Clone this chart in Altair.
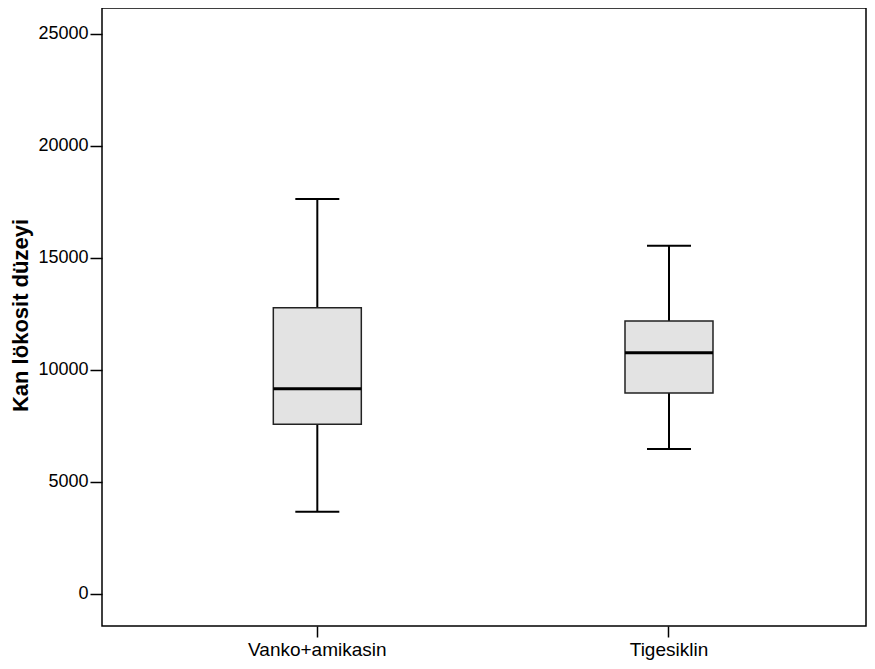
import altair as alt
import pandas as pd

CATS = ["Vanko+amikasin", "Tigesiklin"]
LOWER = [3670, 6470]
Q1 = [7570, 8970]
MEDIAN = [9160, 10760]
Q3 = [12770, 12180]
UPPER = [17620, 15540]
Y_TICKS = [0, 5000, 10000, 15000, 20000, 25000]
Y_TITLE = "Kan lökosit düzeyi"

df = pd.DataFrame({"grp": CATS, "lo": LOWER, "q1": Q1, "med": MEDIAN, "q3": Q3, "hi": UPPER})

FONT = "Liberation Sans"

xenc = alt.X(
    "grp:N",
    sort=CATS,
    title=None,
    scale=alt.Scale(paddingInner=0, paddingOuter=0.0862, align=0.651),
    axis=alt.Axis(labelAngle=0, labelFontSize=19, labelPadding=3, tickSize=11,
                  labelFont=FONT, labelColor="black", tickColor="black", tickWidth=1.5,
                  labelBaseline="top", domain=False, grid=False),
)
yscale = alt.Scale(domain=[-1428, 26147], nice=False, zero=False)
yaxis = alt.Axis(values=Y_TICKS, title=Y_TITLE, titleFont=FONT, titleFontSize=22,
                 titleFontWeight="bold", titleColor="black", titleAngle=-90,
                 titleAlign="center", titleBaseline="middle", titleX=-82, titleY=307,
                 labelFont=FONT, labelFontSize=18, labelColor="black", labelPadding=2,
                 tickSize=12, tickColor="black", tickWidth=1.5, domain=False, grid=False,
                 format="d")

base = alt.Chart(df)

w_low = base.mark_rule(color="black", strokeWidth=2).encode(
    x=xenc, y=alt.Y("lo:Q", scale=yscale, axis=yaxis), y2="q1:Q")
w_high = base.mark_rule(color="black", strokeWidth=2).encode(
    x=xenc, y=alt.Y("q3:Q", scale=yscale, axis=yaxis), y2="hi:Q")
box = base.mark_bar(size=88, fill="#e3e3e3", stroke="#222222", strokeWidth=1.5).encode(
    x=xenc, y=alt.Y("q1:Q", scale=yscale, axis=yaxis), y2="q3:Q")
med = base.mark_tick(size=88, thickness=3, color="black", opacity=1).encode(
    x=xenc, y=alt.Y("med:Q", scale=yscale, axis=yaxis))
cap_lo = base.mark_tick(size=44, thickness=2, color="black", opacity=1).encode(
    x=xenc, y=alt.Y("lo:Q", scale=yscale, axis=yaxis))
cap_hi = base.mark_tick(size=44, thickness=2, color="black", opacity=1).encode(
    x=xenc, y=alt.Y("hi:Q", scale=yscale, axis=yaxis))

chart = alt.layer(w_low, w_high, box, med, cap_lo, cap_hi).properties(
    width=764, height=618,
    autosize=alt.AutoSizeParams(type="none"),
    padding={"left": 94, "top": 0, "right": 1, "bottom": 35},
    background="white",
).configure_view(stroke="black", strokeWidth=1.5)

chart.save("out.html", embed_options={"renderer": "svg", "actions": False})
